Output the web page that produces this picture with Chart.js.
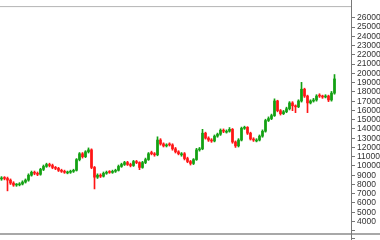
<!DOCTYPE html>
<html>
<head>
<meta charset="utf-8">
<script src="https://cdn.jsdelivr.net/npm/chart.js@4"></script>
<style>
html,body{margin:0;padding:0;background:#fff;}
#c{display:block;}
</style>
</head>
<body>
<canvas id="c" width="380" height="240"></canvas>
<script>
const opens = [
8600,8700,8650,8470,8150,7940,7960,8050,8260,8470,
9000,9315,9210,9100,9630,9950,10160,10050,9840,9740,
9530,9420,9250,9320,9420,9530,10690,11320,11000,11530,
11740,9840,8790,9000,8890,9210,9400,9300,9420,9530,
9950,10160,10370,10160,10050,10480,10370,9840,10370,10690,
11450,11320,11210,12800,12380,12170,12380,12270,11850,11530,
11200,11320,10800,10480,10270,10690,11740,11850,13540,13010,
12800,12700,13220,13430,13860,13650,13750,13960,12590,12170,
12800,14070,14170,13540,12910,12700,12800,13220,13750,14910,
15120,15440,17020,15970,15650,15860,16180,16810,16500,16390,
17020,18290,17550,16810,17020,17130,17650,17550,17450,17550,
17130,17870];
const closes = [
8700,8650,8470,8150,7940,7960,8050,8260,8470,9000,
9315,9210,9100,9630,9950,10160,10050,9840,9740,9530,
9420,9315,9320,9420,9530,10690,11320,11000,11530,11740,
9840,8790,9000,8890,9210,9315,9300,9420,9530,9950,
10160,10370,10160,10050,10480,10370,9840,10370,10690,11320,
11320,11210,12800,12380,12170,12270,12270,11850,11530,11320,
11320,10800,10480,10270,10690,11740,11850,13540,13010,12800,
12700,13220,13430,13860,13750,13750,13960,12590,12170,12800,
14070,14170,13540,12910,12800,12800,13220,13750,14910,15120,
15440,17020,15970,15650,15860,16180,16810,16500,16390,17020,
18290,17550,16810,17020,17130,17550,17550,17450,17550,17130,
17870,19400];
const highs = [
8850,8850,8800,8600,8300,8100,8200,8400,8600,9150,
9450,9450,9350,9750,10100,10300,10300,10200,9950,9850,
9650,9550,9450,9550,9650,10800,11450,11450,11650,11950,
11850,9950,9150,9150,9350,9450,9500,9550,9650,10100,
10300,10500,10500,10300,10600,10600,10450,10500,10850,11450,
11600,11450,13150,12950,12500,12400,12500,12400,12000,11650,
11450,11450,10950,10600,10800,11900,12000,13960,13650,13150,
12950,13350,13550,14000,14000,13900,14150,14050,12700,12950,
14200,14300,14250,13650,13050,12950,13350,13900,15050,15300,
15600,17250,17100,16100,16000,16350,16950,16950,16600,17150,
19030,18400,17650,17150,17300,17700,17800,17650,17700,17650,
18050,19875];
const lows = [
8450,8500,7310,8000,7800,7800,7850,7950,8150,8350,
8900,9050,8950,9000,9500,9850,9900,9700,9600,9400,
9300,9200,9150,9200,9300,9450,10550,10850,10900,11400,
9700,7520,8650,8750,8800,9100,9200,9200,9300,9450,
9850,10050,10050,9900,9950,10250,9600,9750,10250,10600,
11200,11050,11100,12250,12050,12050,12150,11700,11400,11200,
11050,10650,10350,10100,10150,10600,11600,11750,12900,12650,
12550,12600,13100,13300,13600,13550,13650,12450,12000,12050,
12700,13950,13400,12800,12650,12600,12700,13100,13650,14800,
15000,15350,15850,15500,15550,15750,16050,15970,15760,16300,
16900,17400,15760,16700,16900,17000,17400,17300,17350,16950,
17000,17750];
const yTicks = [3000,4000,5000,6000,7000,8000,9000,10000,11000,12000,13000,14000,15000,16000,17000,18000,19000,20000,21000,22000,23000,24000,25000,26000];
const days = Array.from({length: 117}, (_, i) => 'D' + (i + 1));

const UP = '#12a012';
const DOWN = '#ff1515';
const colors = closes.map((c, i) => c >= opens[i] ? UP : DOWN);

const frame = {
  id: 'frame',
  afterDraw(chart) {
    const ctx = chart.ctx;
    const a = chart.chartArea;
    ctx.save();
    ctx.strokeStyle = '#b4b4b4';
    ctx.lineWidth = 1;
    ctx.beginPath();
    ctx.moveTo(0, a.top - 0.5);
    ctx.lineTo(a.right, a.top - 0.5);
    ctx.stroke();
    ctx.strokeStyle = '#a8a8a8';
    ctx.lineWidth = 2;
    ctx.beginPath();
    ctx.moveTo(0, a.bottom + 1);
    ctx.lineTo(380, a.bottom + 1);
    ctx.stroke();
    ctx.strokeStyle = '#777';
    ctx.lineWidth = 1;
    ctx.beginPath();
    ctx.moveTo(a.right + 0.5, 0);
    ctx.lineTo(a.right + 0.5, 240);
    ctx.moveTo(a.right, 238.5);
    ctx.lineTo(a.right + 4, 238.5);
    ctx.stroke();
    ctx.restore();
  }
};

new Chart(document.getElementById('c'), {
  type: 'bar',
  data: {
    labels: days,
    datasets: [
      {
        data: lows.map((l, i) => [l, highs[i]]),
        backgroundColor: colors,
        barThickness: 1,
        grouped: false,
        order: 2
      },
      {
        data: opens.map((o, i) => [o, closes[i]]),
        backgroundColor: colors,
        barThickness: 2,
        minBarLength: 1,
        grouped: false,
        order: 1
      }
    ]
  },
  options: {
    responsive: false,
    animation: false,
    layout: { padding: { top: 5, bottom: 5, left: 0, right: 0 } },
    plugins: { legend: { display: false }, tooltip: { enabled: false } },
    scales: {
      x: { display: false, offset: true, grid: { display: false } },
      y: {
        position: 'right',
        min: 2770,
        max: 27160,
        afterBuildTicks: s => { s.ticks = yTicks.map(v => ({ value: v })); },
        afterFit: s => { s.width = 29; },
        border: { display: true, color: '#777', width: 1 },
        grid: { drawOnChartArea: false, drawTicks: true, tickLength: 4, tickColor: '#777' },
        ticks: {
          autoSkip: false,
          padding: 2,
          color: '#333',
          font: { family: 'Liberation Sans, Arial, sans-serif', size: 8.5 },
          callback: v => v === 3000 ? '' : String(v)
        }
      }
    }
  },
  plugins: [frame]
});
</script>
</body>
</html>
